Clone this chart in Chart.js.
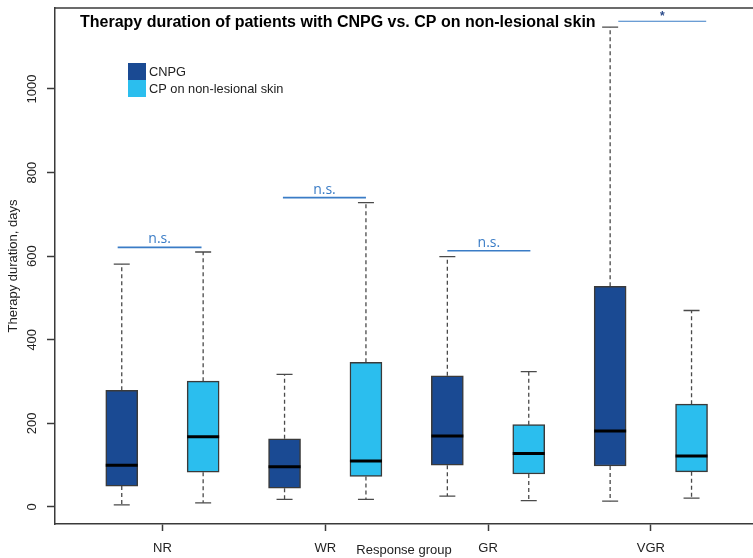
<!DOCTYPE html>
<html>
<head>
<meta charset="utf-8">
<script src="https://cdn.jsdelivr.net/npm/chart.js@4.4.1/dist/chart.umd.min.js"></script>
<style>
  html, body { margin: 0; padding: 0; background: #fff; overflow: hidden; }
  #therapy-chart { display: block; }
</style>
</head>
<body>
<canvas id="therapy-chart" width="753" height="558"></canvas>
<script>
// box statistics (days)
let groups = ["NR", "WR", "GR", "VGR"];

let cnpgMin = [5, 18, 26, 14];
let cnpgQ1 = [50, 45, 100, 98];
let cnpgMedian = [100, 96, 170, 182];
let cnpgQ3 = [279, 163, 314, 528];
let cnpgMax = [581, 317, 599, 1148];

let cpMin = [10, 18, 15, 21];
let cpQ1 = [83, 73, 79, 84];
let cpMedian = [168, 110, 128, 122];
let cpQ3 = [301, 346, 197, 246];
let cpMax = [610, 728, 324, 470];

let yTicks = [0, 200, 400, 600, 800, 1000];

// significance brackets (box positions 1..8, value in days)
let sigText = ["n.s.", "n.s.", "n.s.", "*"];
let sigFrom = [0.95, 2.98, 5.0, 7.1];
let sigTo = [1.98, 4.0, 6.02, 8.18];
let sigLevel = [621, 740, 613, 1162];

let colorsHEX = {
  cnpg: "#1a4a93",
  cp: "#2bbeee",
  frame: "#3a3a3a",
  whisker: "#4a4a4a",
  sig: "#3a7cc6",
  star: "#2a4a8a",
};

Chart.defaults.font.family = '"Liberation Sans", Arial, sans-serif';
Chart.defaults.color = "#222";

let allValues = cnpgMin.concat(cnpgMax, cpMin, cpMax);
let lo = Math.min(...allValues);
let hi = Math.max(...allValues);
let ext = 0.04 * (hi - lo);

let stats = [
  { min: cnpgMin, q1: cnpgQ1, med: cnpgMedian, q3: cnpgQ3, max: cnpgMax },
  { min: cpMin, q1: cpQ1, med: cpMedian, q3: cpQ3, max: cpMax },
];

function boxData(s, offset) {
  return groups.map((g, i) => ({ x: 2 * i + 1 + offset, y: [s.q1[i], s.q3[i]] }));
}

let boxPlotPlugin = {
  id: "boxPlot",
  beforeDatasetsDraw(chart) {
    let ctx = chart.ctx;
    let x = chart.scales.x;
    let y = chart.scales.y;
    ctx.save();
    ctx.strokeStyle = colorsHEX.whisker;
    ctx.lineWidth = 1.3;
    stats.forEach((s, d) => {
      let meta = chart.getDatasetMeta(d);
      groups.forEach((g, i) => {
        let px = x.getPixelForValue(2 * i + 1 + d);
        let half = meta.data[i].width / 4;
        ctx.setLineDash([4, 3]);
        ctx.beginPath();
        ctx.moveTo(px, y.getPixelForValue(s.q3[i]));
        ctx.lineTo(px, y.getPixelForValue(s.max[i]));
        ctx.moveTo(px, y.getPixelForValue(s.q1[i]));
        ctx.lineTo(px, y.getPixelForValue(s.min[i]));
        ctx.stroke();
        ctx.setLineDash([]);
        ctx.beginPath();
        [s.max[i], s.min[i]].forEach((v) => {
          let py = y.getPixelForValue(v);
          ctx.moveTo(px - half, py);
          ctx.lineTo(px + half, py);
        });
        ctx.stroke();
      });
    });
    ctx.restore();
  },
  afterDatasetsDraw(chart) {
    let ctx = chart.ctx;
    let x = chart.scales.x;
    let y = chart.scales.y;
    let area = chart.chartArea;
    ctx.save();

    // medians
    ctx.strokeStyle = "#000";
    ctx.lineWidth = 3;
    stats.forEach((s, d) => {
      let meta = chart.getDatasetMeta(d);
      groups.forEach((g, i) => {
        let px = x.getPixelForValue(2 * i + 1 + d);
        let half = meta.data[i].width / 2;
        let py = y.getPixelForValue(s.med[i]);
        ctx.beginPath();
        ctx.moveTo(px - half, py);
        ctx.lineTo(px + half, py);
        ctx.stroke();
      });
    });

    // significance brackets
    sigText.forEach((t, i) => {
      let x0 = x.getPixelForValue(sigFrom[i]);
      let x1 = x.getPixelForValue(sigTo[i]);
      let py = y.getPixelForValue(sigLevel[i]);
      ctx.strokeStyle = colorsHEX.sig;
      ctx.lineWidth = t === "*" ? 1.2 : 1.6;
      ctx.beginPath();
      ctx.moveTo(x0, py);
      ctx.lineTo(x1, py);
      ctx.stroke();
      ctx.textAlign = "center";
      ctx.textBaseline = "alphabetic";
      if (t === "*") {
        ctx.fillStyle = colorsHEX.star;
        ctx.font = 'bold 12px "Liberation Sans", Arial, sans-serif';
        ctx.fillText(t, (x0 + x1) / 2, py - 1);
      } else {
        ctx.fillStyle = colorsHEX.sig;
        ctx.font = '14px "Open Sans", "Noto Sans", sans-serif';
        ctx.fillText(t, (x0 + x1) / 2, py - 4);
      }
    });

    // title inside the frame
    ctx.fillStyle = "#000";
    ctx.font = 'bold 16px "Liberation Sans", Arial, sans-serif';
    ctx.textAlign = "left";
    ctx.textBaseline = "middle";
    ctx.fillText(
      "Therapy duration of patients with CNPG vs. CP on non-lesional skin",
      area.left + 25,
      area.top + 15
    );

    // legend
    let legendItems = [
      { label: "CNPG", color: colorsHEX.cnpg },
      { label: "CP on non-lesional skin", color: colorsHEX.cp },
    ];
    ctx.font = '12.8px "Liberation Sans", Arial, sans-serif';
    legendItems.forEach((item, i) => {
      let top = area.top + 55 + i * 17;
      ctx.fillStyle = item.color;
      ctx.fillRect(area.left + 73, top, 18, 17);
      ctx.fillStyle = "#222";
      ctx.fillText(item.label, area.left + 94, top + 9);
    });

    // top of the frame
    ctx.strokeStyle = colorsHEX.frame;
    ctx.lineWidth = 1.5;
    ctx.beginPath();
    ctx.moveTo(area.left, area.top);
    ctx.lineTo(area.right, area.top);
    ctx.stroke();
    ctx.restore();
  },
};

let therapyChart = new Chart("therapy-chart", {
  type: "bar",
  data: {
    datasets: [
      {
        label: "CNPG",
        data: boxData(stats[0], 0),
        backgroundColor: colorsHEX.cnpg,
        borderColor: colorsHEX.frame,
        borderWidth: 1.5,
        borderSkipped: false,
        barThickness: 32,
        grouped: false,
      },
      {
        label: "CP on non-lesional skin",
        data: boxData(stats[1], 1),
        backgroundColor: colorsHEX.cp,
        borderColor: colorsHEX.frame,
        borderWidth: 1.5,
        borderSkipped: false,
        barThickness: 32,
        grouped: false,
      },
    ],
  },
  options: {
    responsive: false,
    animation: false,
    layout: { padding: { top: 8, right: 0, bottom: 0, left: 0 } },
    plugins: {
      legend: { display: false },
      tooltip: { enabled: false },
    },
    scales: {
      x: {
        type: "linear",
        offset: false,
        min: 0.18,
        max: 8.755,
        afterBuildTicks: (scale) => {
          scale.ticks = groups.map((g, i) => ({ value: 2 * i + 1.5 }));
        },
        afterFit: (scale) => {
          scale.height = 34;
        },
        ticks: {
          callback: (value) => groups[Math.round((value - 1.5) / 2)],
          font: { size: 13 },
          color: "#222",
          padding: 10,
          maxRotation: 0,
          minRotation: 0,
        },
        grid: {
          offset: false,
          drawOnChartArea: false,
          drawTicks: true,
          tickLength: 7,
          tickColor: colorsHEX.frame,
          tickWidth: 1.5,
        },
        border: { display: true, color: colorsHEX.frame, width: 1.5 },
        title: {
          display: true,
          text: "Response group",
          font: { size: 13 },
          color: "#222",
          padding: { top: 0, bottom: 0 },
        },
      },
      y: {
        type: "linear",
        min: lo - ext,
        max: hi + ext,
        afterBuildTicks: (scale) => {
          scale.ticks = yTicks.map((v) => ({ value: v }));
        },
        afterFit: (scale) => {
          scale.width = 55;
        },
        ticks: {
          callback: (value) => String(value),
          font: { size: 13 },
          color: "#222",
          minRotation: 90,
          maxRotation: 90,
          crossAlign: "center",
          padding: 0,
        },
        grid: {
          drawOnChartArea: false,
          drawTicks: true,
          tickLength: 8,
          tickColor: colorsHEX.frame,
          tickWidth: 1.5,
        },
        border: { display: true, color: colorsHEX.frame, width: 1.5 },
        title: {
          display: true,
          text: "Therapy duration, days",
          font: { size: 13 },
          color: "#222",
          padding: { top: 6, bottom: 0 },
        },
      },
    },
  },
  plugins: [boxPlotPlugin],
});
</script>
</body>
</html>
